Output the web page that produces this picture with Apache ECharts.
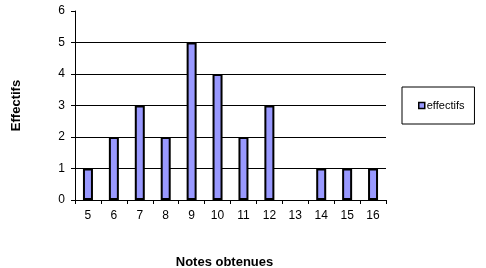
<!DOCTYPE html>
<html><head><meta charset="utf-8">
<script src="https://cdn.jsdelivr.net/npm/echarts@6/dist/echarts.min.js"></script>
<style>html,body{margin:0;padding:0;background:#fff}#c{width:486px;height:268px}</style>
</head><body><div id="c"></div>
<script>
const categories = ['5','6','7','8','9','10','11','12','13','14','15','16'];
const effectifs = [1,2,3,2,5,4,2,3,0,1,1,1];
const yTicks = [0,1,2,3,4,5,6];

const chart = echarts.init(document.getElementById('c'), null, {renderer:'canvas'});
const font = 'Liberation Sans, Arial, sans-serif';
chart.setOption({
  animation:false,
  backgroundColor:'#fff',
  grid:{left:75,right:100,top:11,bottom:68,containLabel:false,outerBoundsMode:'none'},
  legend:{
    show:true, orient:'vertical', left:402, top:87,
    data:['effectifs'],
    borderColor:'#000', borderWidth:1,
    padding:[13,10,13,16],
    itemWidth:6, itemHeight:6, itemGap:0,
    icon:'rect',
    itemStyle:{borderColor:'#000',borderWidth:1.5},
    textStyle:{fontFamily:font,fontSize:11,color:'#000',padding:[0,0,0,-3]}
  },
  xAxis:{
    type:'category', data:categories,
    name:'Notes obtenues', nameLocation:'middle', nameGap:56,
    nameTextStyle:{fontFamily:font,fontSize:13,fontWeight:'bold',color:'#000',padding:[0,12,0,0]},
    axisLine:{lineStyle:{color:'#000',width:1}},
    axisTick:{show:true,length:4,lineStyle:{color:'#000'}},
    axisLabel:{fontFamily:font,fontSize:12,color:'#000',margin:10}
  },
  yAxis:{
    type:'value', min:0, max:6, interval:1,
    name:'Effectifs', nameLocation:'middle', nameGap:52, nameRotate:90,
    nameTextStyle:{fontFamily:font,fontSize:13,fontWeight:'bold',color:'#000'},
    axisLine:{show:true,lineStyle:{color:'#000',width:1}},
    axisTick:{show:true,length:4,lineStyle:{color:'#000'}},
    axisLabel:{fontFamily:font,fontSize:12,color:'#000',margin:10,
      formatter:v=>yTicks.includes(v)?String(v):''},
    splitLine:{show:true,showMaxLine:false,lineStyle:{color:'#000',width:1}}
  },
  series:[{
    name:'effectifs', type:'bar', data:effectifs.map(v=>v===0?'-':v),
    barWidth:10,
    itemStyle:{color:'#9999FF',borderColor:'#000',borderWidth:2}
  }]
});
</script></body></html>
